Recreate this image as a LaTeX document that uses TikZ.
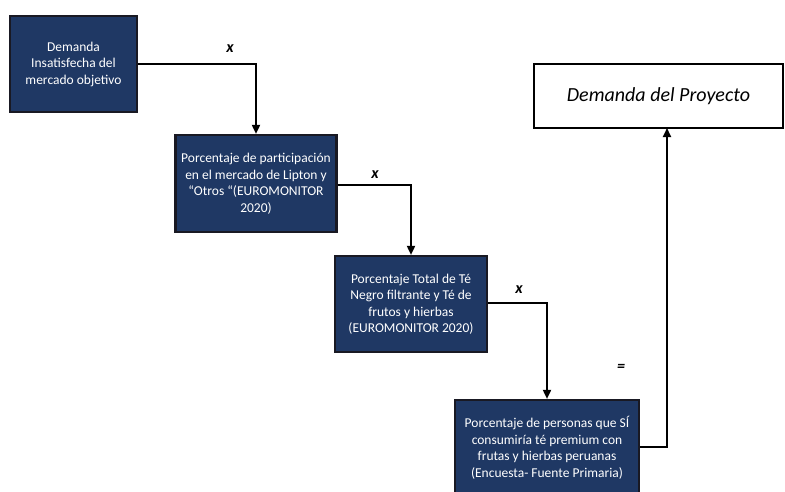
\documentclass[tikz,border=0pt]{standalone}
\usepackage{fontspec}
\setmainfont{Carlito}
\usetikzlibrary{arrows.meta}
\definecolor{navy}{RGB}{31,56,100}
\definecolor{edge}{RGB}{25,25,35}
\tikzset{
  stagebox/.style={draw=edge, line width=2.2pt, fill=navy, text=white,
    align=center, inner sep=0pt, font=\fontsize{13.5}{16.5}\selectfont},
  resultbox/.style={draw=black, line width=2.2pt, fill=white, align=center,
    inner sep=0pt, font=\fontsize{20}{23}\selectfont\itshape},
  flow/.style={draw=black, line width=1.8pt, -{Triangle[length=9pt,width=8pt]}},
  oplabel/.style={font=\fontsize{16}{18}\selectfont\bfseries\itshape}
}
\begin{document}
\begin{tikzpicture}[x=1pt,y=-1pt]
\clip (0,0) rectangle (785,491);
\fill[white] (0,0) rectangle (785,491);

\node[stagebox, minimum width=127pt, minimum height=96pt] (b1) at (73.5,64)
  {Demanda\\Insatisfecha del\\mercado objetivo};
\node[stagebox, minimum width=161pt, minimum height=97pt] (b2) at (256,183.5)
  {Porcentaje de participación\\en el mercado de Lipton y\\“Otros “(EUROMONITOR\\2020)};
\node[stagebox, minimum width=152pt, minimum height=96pt] (b3) at (411,304)
  {Porcentaje Total de Té\\Negro filtrante y Té de\\frutos y hierbas\\(EUROMONITOR 2020)};
\node[stagebox, minimum width=184pt, minimum height=96pt] (b4) at (547,448)
  {Porcentaje de personas que SÍ\\consumiría té premium con\\frutas y hierbas peruanas\\(Encuesta- Fuente Primaria)};
\node[resultbox, minimum width=249pt, minimum height=64pt] (res) at (658.5,96)
  {Demanda del Proyecto};

\coordinate (resin) at (667,128);

\draw[flow] (b1.east) -| (b2.north);
\draw[flow] (b2.east |- 0,185) -| (b3.north);
\draw[flow] (b3.east |- 0,303) -| (b4.north);
\draw[flow] (b4.east |- 0,447) -| (resin);

\node[oplabel] (x1) at (230,49) {x};
\node[oplabel] (x2) at (375,175) {x};
\node[oplabel] (x3) at (519,290) {x};
\node[oplabel] (eq) at (621,368) {=};
\end{tikzpicture}
\end{document}
